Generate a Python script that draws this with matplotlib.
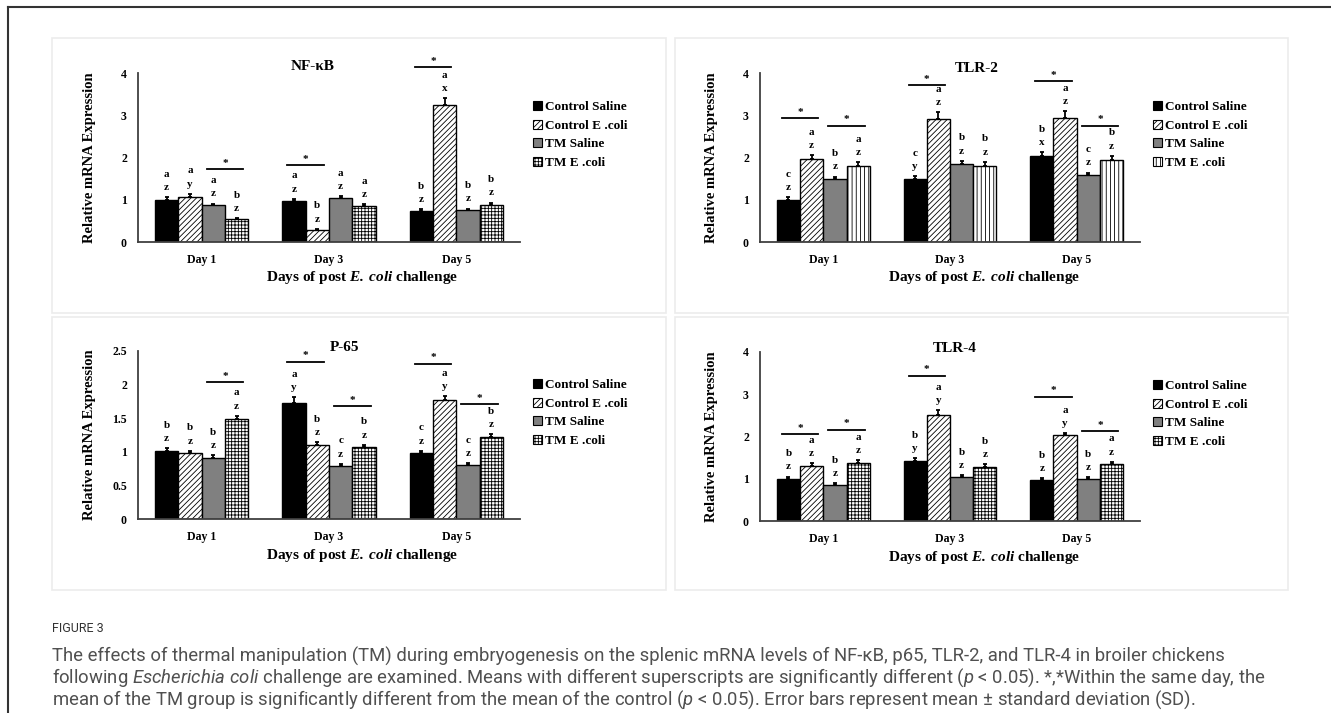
import numpy as np
import matplotlib
matplotlib.use('Agg')
import matplotlib.pyplot as plt
from matplotlib.patches import Rectangle, Patch
from matplotlib.lines import Line2D

plt.rcParams['font.family'] = ['Liberation Serif', 'DejaVu Serif']
plt.rcParams['font.weight'] = 'bold'
plt.rcParams['hatch.linewidth'] = 0.6
plt.rcParams['mathtext.fontset'] = 'custom'
plt.rcParams['mathtext.rm'] = 'Roboto:regular'
plt.rcParams['mathtext.it'] = 'Roboto:italic:regular'
plt.rcParams['mathtext.bfit'] = 'Liberation Serif:italic:bold'

days = ['Day 1', 'Day 3', 'Day 5']
groups = ['Control Saline', 'Control E .coli', 'TM Saline', 'TM E .coli']

# values per group (rows) and day (cols)
nfkb_vals = [[1.00, 0.96, 0.73], [1.07, 0.29, 3.25], [0.87, 1.03, 0.76], [0.54, 0.86, 0.88]]
nfkb_err = [[0.06, 0.06, 0.04], [0.07, 0.02, 0.16], [0.04, 0.06, 0.03], [0.03, 0.04, 0.05]]
nfkb_letters = [['az', 'az', 'bz'], ['ay', 'bz', 'ax'], ['az', 'az', 'bz'], ['bz', 'az', 'bz']]
nfkb_sig = [(0, 2, 1.73), (1, 0, 1.82), (2, 0, 4.14)]

tlr2_vals = [[1.00, 1.49, 2.03], [1.96, 2.92, 2.93], [1.49, 1.84, 1.58], [1.81, 1.81, 1.95]]
tlr2_err = [[0.06, 0.07, 0.09], [0.10, 0.15, 0.16], [0.06, 0.08, 0.06], [0.08, 0.09, 0.09]]
tlr2_letters = [['cz', 'cy', 'bx'], ['az', 'az', 'az'], ['bz', 'bz', 'cz'], ['az', 'bz', 'bz']]
tlr2_sig = [(0, 0, 2.93), (0, 2, 2.75), (1, 0, 3.71), (2, 0, 3.80), (2, 2, 2.75)]

p65_vals = [[1.01, 1.73, 0.975], [0.985, 1.10, 1.77], [0.915, 0.79, 0.80], [1.485, 1.065, 1.22]]
p65_err = [[0.04, 0.08, 0.04], [0.03, 0.04, 0.06], [0.03, 0.03, 0.03], [0.05, 0.04, 0.04]]
p65_letters = [['bz', 'ay', 'cz'], ['bz', 'bz', 'ay'], ['bz', 'cz', 'cz'], ['az', 'bz', 'bz']]
p65_sig = [(0, 2, 2.04), (1, 0, 2.34), (1, 2, 1.68), (2, 0, 2.31), (2, 2, 1.71)]

tlr4_vals = [[1.00, 1.43, 0.97], [1.31, 2.50, 2.03], [0.86, 1.04, 0.99], [1.38, 1.28, 1.35]]
tlr4_err = [[0.05, 0.06, 0.04], [0.06, 0.12, 0.05], [0.04, 0.04, 0.04], [0.06, 0.06, 0.05]]
tlr4_letters = [['bz', 'by', 'bz'], ['az', 'ay', 'ay'], ['bz', 'bz', 'bz'], ['az', 'bz', 'az']]
tlr4_sig = [(0, 0, 2.05), (0, 2, 2.16), (1, 0, 3.44), (2, 0, 2.94), (2, 2, 2.12)]

ticks4 = [0, 1, 2, 3, 4]
ticks4_lab = ['0', '1', '2', '3', '4']
ticks25 = [0, 0.5, 1, 1.5, 2, 2.5]
ticks25_lab = ['0', '0.5', '1', '1.5', '2', '2.5']

W, H = 1331, 713
fig = plt.figure(figsize=(W / 100, H / 100), dpi=100)


def fx(x):
    return x / W


def fy(y):
    return 1 - y / H


panels = [
    dict(title='NF-κB', vals=nfkb_vals, err=nfkb_err, letters=nfkb_letters, sig=nfkb_sig,
         box=(138, 73, 520, 242), ymax=4, ticks=ticks4, labs=ticks4_lab,
         title_xy=(313, 67), grid='+++++', frame=(52, 38, 666, 313)),
    dict(title='TLR-2', vals=tlr2_vals, err=tlr2_err, letters=tlr2_letters, sig=tlr2_sig,
         box=(760, 73, 1140, 242), ymax=4, ticks=ticks4, labs=ticks4_lab,
         title_xy=(977, 69), grid='||||', frame=(675, 38, 1288, 313)),
    dict(title='P-65', vals=p65_vals, err=p65_err, letters=p65_letters, sig=p65_sig,
         box=(138, 351, 520, 519), ymax=2.5, ticks=ticks25, labs=ticks25_lab,
         title_xy=(345, 347), grid='+++++', frame=(52, 317, 666, 590)),
    dict(title='TLR-4', vals=tlr4_vals, err=tlr4_err, letters=tlr4_letters, sig=tlr4_sig,
         box=(760, 352, 1140, 521), ymax=4, ticks=ticks4, labs=ticks4_lab,
         title_xy=(955, 348), grid='+++++', frame=(675, 317, 1288, 590)),
]

w = 0.1835
face = ['black', 'white', '#808080', 'white']

for p in panels:
    l, t, r, b = p['box']
    ax = fig.add_axes([fx(l), fy(b), (r - l) / W, (b - t) / H])
    hatch = [None, '//////', None, p['grid']]
    x0 = np.arange(len(days))
    for g in range(4):
        x = x0 + (g - 1.5) * w
        v = np.array(p['vals'][g])
        e = np.array(p['err'][g])
        ax.bar(x, v, w, color=face[g], edgecolor='black', linewidth=1.0, hatch=hatch[g],
               yerr=[np.zeros(3), e], error_kw=dict(ecolor='black', elinewidth=1.3,
                                                    capsize=1.5, capthick=1.3), zorder=2)
        for d in range(3):
            top = v[d] + e[d]
            ax.annotate(p['letters'][g][d][0], (x[d], top), xytext=(0, 16.5),
                        textcoords='offset points', ha='center', va='center', fontsize=8,
                        annotation_clip=False)
            ax.annotate(p['letters'][g][d][1], (x[d], top), xytext=(0, 7),
                        textcoords='offset points', ha='center', va='center', fontsize=8,
                        annotation_clip=False)
    for d, g, yv in p['sig']:
        xc = d + (g - 1) * w
        ax.plot([xc - 0.78 * w, xc + 0.78 * w], [yv, yv], color='black', lw=1.3, clip_on=False)
        ax.annotate('*', (xc, yv), xytext=(0, 1), textcoords='offset points',
                    ha='center', va='bottom', fontsize=8, annotation_clip=False)
    ax.set_xlim(-0.5, 2.5)
    ax.set_ylim(0, p['ymax'])
    ax.set_xticks(x0)
    ax.set_xticklabels(days)
    ax.set_yticks(p['ticks'])
    ax.set_yticklabels(p['labs'])
    ax.tick_params(axis='x', length=0, pad=8.5, labelsize=8.5)
    ax.tick_params(axis='y', length=0, pad=8, labelsize=8.5)
    for s in ['top', 'right']:
        ax.spines[s].set_visible(False)
    for s in ['left', 'bottom']:
        ax.spines[s].set_color('#404040')
        ax.spines[s].set_linewidth(1.3)
    ax.set_facecolor('none')

    fig.text(fx(p['title_xy'][0]), fy(p['title_xy'][1]), p['title'], ha='center',
             va='center', fontsize=11)
    fig.text(fx(l - 48), fy((t + b) / 2), 'Relative mRNA Expression', rotation=90,
             ha='center', va='center', fontsize=10.5)
    fig.text(fx(l + 224), fy(b + 36), r'Days of post $\mathbfit{E.\:coli}$ challenge',
             ha='center', va='center', fontsize=11)

    handles = [Patch(facecolor=face[g], edgecolor='black', hatch=hatch[g], linewidth=0.8)
               for g in range(4)]
    ax.legend(handles, groups, loc='upper left', bbox_to_anchor=(fx(r + 13), fy(t + 28)),
              bbox_transform=fig.transFigure, frameon=False, fontsize=9.5,
              handlelength=0.7, handleheight=0.7, handletextpad=0.2,
              labelspacing=0.48, borderpad=0, borderaxespad=0)

    fl, ft, fr, fb = p['frame']
    fig.add_artist(Rectangle((fx(fl), fy(fb)), (fr - fl) / W, (fb - ft) / H,
                             transform=fig.transFigure, fill=False,
                             edgecolor='#ececec', linewidth=1.2))

# outer frame
fig.add_artist(Line2D([fx(8), 1], [fy(7), fy(7)], color='#333333', lw=1.5))
fig.add_artist(Line2D([fx(8), fx(8)], [0, fy(7)], color='#333333', lw=1.5))

cap = dict(family=['Roboto', 'DejaVu Sans'], weight='normal', color='#505050',
           va='center', ha='left')
fig.text(fx(52), fy(628), 'FIGURE 3', fontsize=9, **{**cap, 'color': '#333333'})
fig.text(fx(52), fy(656), 'The effects of thermal manipulation (TM) during embryogenesis on the '
         'splenic mRNA levels of NF-κB, p65, TLR-2, and TLR-4 in broiler chickens',
         fontsize=13.3, **cap)
fig.text(fx(52), fy(678), r'following $\mathit{Escherichia\ coli}$ challenge are examined. Means '
         r'with different superscripts are significantly different ($\mathit{p}$ < 0.05). '
         r'*,*Within the same day, the', fontsize=13.3, **cap)
fig.text(fx(52), fy(700), r'mean of the TM group is significantly different from the mean of '
         r'the control ($\mathit{p}$ < 0.05). Error bars represent mean ± standard deviation (SD).',
         fontsize=13.3, **cap)

fig.savefig('out.png', dpi=100)
